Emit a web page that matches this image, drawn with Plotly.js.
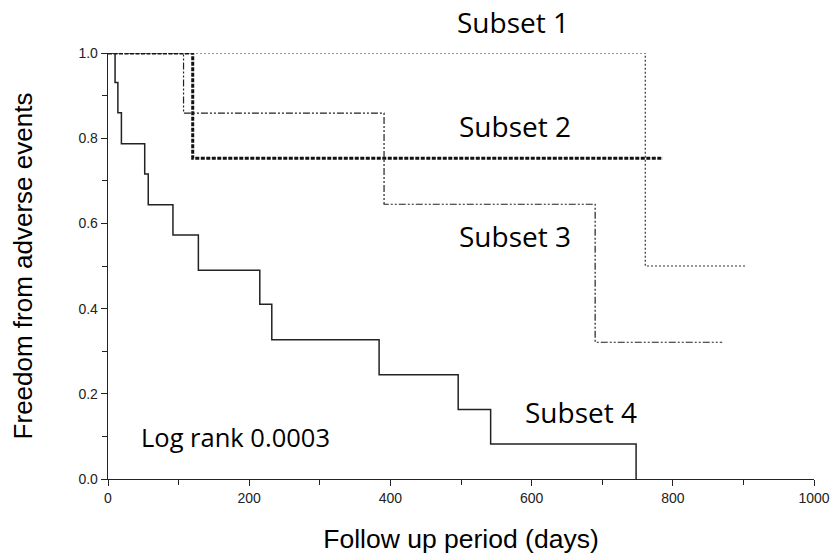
<!DOCTYPE html>
<html><head><meta charset="utf-8">
<script src="https://cdn.plot.ly/plotly-3.0.1.min.js"></script>
<style>html,body{margin:0;padding:0;background:#fff}#chart{width:836px;height:555px}</style>
</head><body><div id="chart"></div>
<script>
// Kaplan-Meier step data (days, survival)
const subset1Days = [0, 761, 904];
const subset1Surv = [1.0, 0.5, 0.5];
const subset2Days = [0, 120, 786];
const subset2Surv = [1.0, 0.753, 0.753];
const subset3Days = [0, 107, 391, 690, 870];
const subset3Surv = [1.0, 0.859, 0.645, 0.321, 0.321];
const subset4Days = [0, 10, 14, 19, 52, 57, 92, 128, 215, 232, 384, 496, 542, 748];
const subset4Surv = [1.0, 0.931, 0.860, 0.787, 0.716, 0.644, 0.573, 0.490, 0.410, 0.327, 0.245, 0.163, 0.082, 0.0];

const xTicks = [0, 200, 400, 600, 800, 1000];
const yTicks = [0.0, 0.2, 0.4, 0.6, 0.8, 1.0];
const yTickText = ['0.0', '0.2', '0.4', '0.6', '0.8', '1.0'];

const labels = ['Subset 1', 'Subset 2', 'Subset 3', 'Subset 4', 'Log rank 0.0003'];
const labelX = [574, 576, 576, 670, 180];
const labelY = [1.072, 0.828, 0.570, 0.157, 0.098];

const traces = [
  {x: subset1Days, y: subset1Surv, mode: 'lines', line: {shape: 'hv', color: '#333', width: 1.2, dash: '2px,2px'}},
  {x: subset2Days, y: subset2Surv, mode: 'lines', line: {shape: 'hv', color: '#111', width: 3, dash: '4px,1.5px'}},
  {x: subset3Days, y: subset3Surv, mode: 'lines', line: {shape: 'hv', color: '#222', width: 1.2, dash: '7px,2px,2px,2px,2px,2px'}},
  {x: subset4Days, y: subset4Surv, mode: 'lines', line: {shape: 'hv', color: '#222', width: 1.5}}
].map(t => Object.assign(t, {showlegend: false, hoverinfo: 'none', cliponaxis: false}));

const annotations = labels.map((txt, i) => ({
  x: labelX[i], y: labelY[i], xref: 'x', yref: 'paper', text: txt, showarrow: false,
  xanchor: 'center', yanchor: 'middle',
  font: {family: 'Open Sans, Noto Sans, sans-serif', size: i === 4 ? 25.5 : 28, color: '#000'}
}));

const axisFont = {family: 'Liberation Sans, Arial, sans-serif', size: 14, color: '#222'};

const layout = {
  width: 836, height: 555,
  margin: {l: 108, r: 22, t: 53, b: 76},
  paper_bgcolor: '#fff', plot_bgcolor: '#fff',
  xaxis: {
    range: [0, 1000], tickvals: xTicks, ticks: 'outside', ticklen: 6, tickcolor: '#222',
    showline: true, linecolor: '#222', linewidth: 1.3, showgrid: false, zeroline: false,
    minor: {dtick: 100, ticks: 'outside', ticklen: 5, tickcolor: '#222', showgrid: false},
    tickfont: axisFont,
    title: {text: 'Follow up period (days)', font: {family: 'Liberation Sans, Arial, sans-serif', size: 26.5, color: '#000'}, standoff: 24}
  },
  yaxis: {
    range: [0, 1], tickvals: yTicks, ticktext: yTickText, ticks: 'outside', ticklen: 6, tickcolor: '#222',
    showline: true, linecolor: '#222', linewidth: 1.3, showgrid: false, zeroline: false,
    minor: {dtick: 0.1, ticks: 'outside', ticklen: 5, tickcolor: '#222', showgrid: false},
    tickfont: axisFont,
    title: {text: 'Freedom from adverse events', font: {family: 'Liberation Sans, Arial, sans-serif', size: 26, color: '#000'}, standoff: 38}
  },
  annotations: annotations
};

Plotly.newPlot('chart', traces, layout, {staticPlot: true, displayModeBar: false});
</script></body></html>
